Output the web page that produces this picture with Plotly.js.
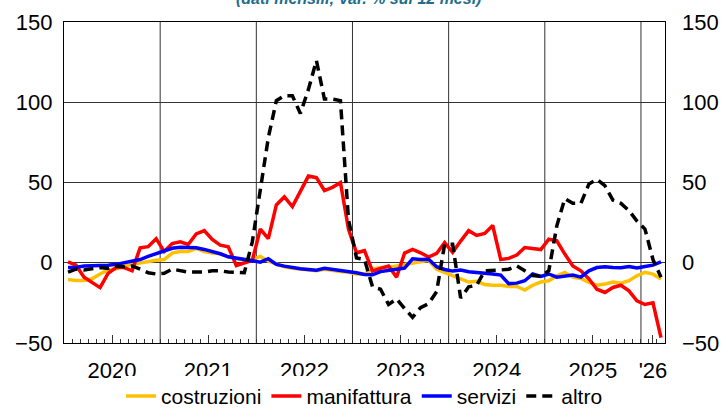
<!DOCTYPE html>
<html>
<head>
<meta charset="utf-8">
<script src="https://cdn.plot.ly/plotly-3.0.1.min.js"></script>
<style>html,body{margin:0;padding:0;background:#fff;}#chart{width:721px;height:410px;}</style>
</head>
<body>
<div id="chart"></div>
<script>
// Monthly data, Jan 2020 .. Mar 2026 (index 0 = Jan 2020)
const yearLabels = ['2020','2021','2022','2023','2024','2025',"'26"];
const yearLabelPos = [5.5,17.5,29.5,41.5,53.5,65.5,73];
const yearBounds = [11.5,23.5,35.5,47.5,59.5,71.5];

const costruzioni = [
 -10.4,-11,-11,-10,-7,-4.5,-3.7,-2,-1,0,1,1.5,
 2,6,7,7,9,7,6,5.6,3.7,2.5,1.6,2,
 4,1,-1,-2.5,-3.5,-4,-4.5,-5,-4,-5,-5.5,-6,
 -7,-7.2,-4,-3,-3,-2,-1,0,0.5,1.5,-4,-6,
 -8,-10.4,-12,-11.5,-13.5,-14,-14,-14.8,-14.8,-17,-14,-12,
 -11.2,-8.1,-6,-9,-9.8,-12.3,-14,-13.3,-12,-12.7,-11.2,-8.1,
 -6,-7.1,-10.2];
const manifattura = [
 0.6,-1.5,-9,-12,-15.5,-6.6,-3,-3,-5,9.3,10,15,
 7,12,13,11.4,18,20,14.5,11,10,-1.7,0,1.5,
 21,15,36,41,35,45,54,53,45,47,50,21,
 6.2,7.5,-5.2,-3.5,-2,-9,6,8.3,6.2,3.5,5.8,12.5,
 6.4,13.5,20,17,18.3,23.2,2,2.7,4.8,9.5,8.6,8.2,
 14.7,13.7,5.4,-2,-5,-10,-16.5,-18.5,-15.4,-14,-17.5,-23.7,
 -26,-25,-46.7];
const servizi = [
 -3,-3,-2,-2,-2,-1.5,-1,0,1,2,4,5.6,
 7,9,9.7,9.7,9.3,8.3,7,5.6,3.7,2.9,2,1.2,
 0.4,2.5,-1,-2.1,-3.1,-3.7,-4.2,-4.6,-3.5,-4.2,-4.6,-5.2,
 -6.2,-7.3,-7.5,-5.5,-5,-4,-3.3,2.5,2,2.2,-2.5,-4.2,
 -5.2,-4.5,-5.6,-5.8,-6.5,-7,-7.7,-13,-12.7,-11.2,-7,-8.5,
 -7,-9,-8.5,-7.7,-9,-5,-3,-2.5,-3,-3.1,-2.3,-3.3,
 -2.3,-1.5,0.6];
const altro = [
 -5.8,-4,-4.5,-3.7,-3,-3.5,-2,-2.5,-2,-4,-6.2,-7,
 -6.6,-4,-5,-5.8,-5.8,-5.8,-5,-5,-5.8,-5.8,-6.2,13,
 45,78,101,104,104,93,108,126,102,102,101,27,
 3,2,-15,-16.5,-26,-22.5,-28.5,-34,-28,-25.5,-18,11.5,
 11.5,-22,-15,-14,-5,-5,-4.5,-4,-2,-5,-8,-8.5,
 -5,23,40,37,37,49,52,48,39,37,32.5,26,
 21,2,-9];

const seriesNames = ['costruzioni','manifattura','servizi','altro'];
const seriesColors = ['#FFC000','#FF0000','#0000FF','#000000'];
const seriesData = [costruzioni, manifattura, servizi, altro];

const xIdx = costruzioni.map((_, i) => i);

const traces = seriesData.map((d, k) => ({
  type: 'scatter', mode: 'lines', name: seriesNames[k],
  x: xIdx, y: d,
  line: {color: seriesColors[k], width: 3.5, dash: k === 3 ? '10px,6px' : 'solid'},
  hoverinfo: 'skip'
}));
traces.push({type:'scatter', mode:'lines', x:[null], y:[null], yaxis:'y2', showlegend:false, hoverinfo:'skip'});

const fontFam = 'Liberation Sans, Arial, sans-serif';
const shapes = yearBounds.map(b => ({
  type:'line', xref:'x', yref:'paper', x0:b, x1:b, y0:0, y1:1,
  line:{color:'#333333', width:1}, layer:'below'
}));

const layout = {
  width: 721, height: 410,
  margin: {l: 64, r: 56, t: 22, b: 67, autoexpand: false},
  paper_bgcolor: '#ffffff', plot_bgcolor: '#ffffff',
  font: {family: fontFam, size: 22, color: '#000000'},
  showlegend: true,
  legend: {orientation:'h', x:0.5, xanchor:'center', y:-0.166, yanchor:'middle',
           font:{family: fontFam, size: 21, color:'#000'}, itemwidth: 30, traceorder:'normal'},
  xaxis: {
    range: [-0.5, 74.5], showgrid: false, zeroline: false,
    showline: true, mirror: true, linecolor: '#000', linewidth: 1.2,
    tickmode: 'array', tickvals: yearLabelPos, ticktext: yearLabels,
    ticks: 'inside', ticklen: 8, tickcolor: '#333', tickwidth: 1,
    ticklabelstandoff: 7,
    minor: {tickmode:'linear', tick0: -0.5, dtick: 1, ticks:'inside', ticklen: 4, tickcolor:'#333', tickwidth: 1, showgrid:false},
    tickfont: {family: fontFam, size: 22, color:'#000'}
  },
  yaxis: {
    range: [-50, 150], tickvals: [-50,0,50,100,150], ticks: '',
    showgrid: true, gridcolor: '#333333', gridwidth: 1, zeroline: false,
    showline: true, mirror: true, linecolor: '#000', linewidth: 1.2,
    ticklabelstandoff: 6, tickfont: {family: fontFam, size: 22, color:'#000'}
  },
  yaxis2: {
    range: [-50, 150], tickvals: [-50,0,50,100,150], overlaying: 'y', side: 'right',
    showgrid: false, zeroline: false, ticks: '', showline: false,
    ticklabelstandoff: 16, tickfont: {family: fontFam, size: 22, color:'#000'}
  },
  shapes: shapes,
  annotations: [{
    text: '<i>(dati mensili; var. % sui 12 mesi)</i>', xref:'paper', yref:'paper',
    x: 0.49, y: 1.04, xanchor:'center', yanchor:'bottom', showarrow:false,
    font: {family: fontFam, size: 16, color: '#1F6E8C', weight: 'bold'}
  }]
};

Plotly.newPlot('chart', traces, layout, {staticPlot: true, displayModeBar: false});
</script>
</body>
</html>
